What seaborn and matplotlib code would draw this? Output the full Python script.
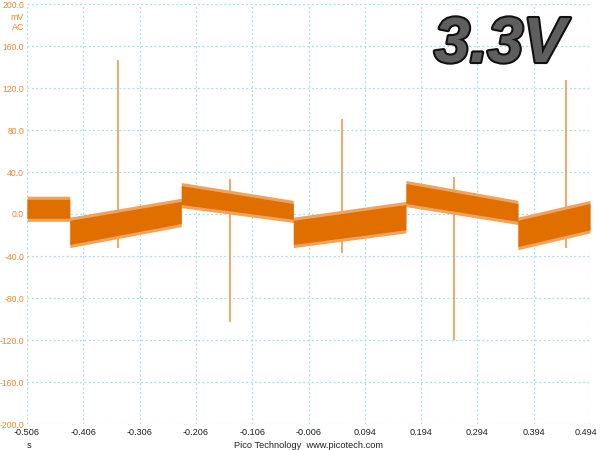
import numpy as np
import matplotlib
matplotlib.use("Agg")
import matplotlib.pyplot as plt
import matplotlib.patheffects as pe
import seaborn as sns

# Noise band of the captured trace, read per segment (mV), outer edge incl. fringe
seg_start = [-0.506, -0.430, -0.232, -0.033, 0.167, 0.366]
seg_end = [-0.430, -0.232, -0.033, 0.167, 0.366, 0.494]
hi_start = [17, -3, 30, -3, 32, -3]
hi_end = [17, 15, 13, 12, 13, 13]
lo_start = [-7, -32, 6, -32, 7, -34]
lo_end = [-7, -12, -8, -18, -10, -18]

# Single-sample spikes (s, mV)
spike_t = [-0.344, -0.145, 0.054, 0.252, 0.451]
spike_hi = [147, 33, 90, 35, 128]
spike_lo = [-32, -103, -37, -120, -32]

x_ticks = [-0.506, -0.406, -0.306, -0.206, -0.106, -0.006, 0.094, 0.194, 0.294, 0.394, 0.494]
y_ticks = [200, 160, 120, 80, 40, 0, -40, -80, -120, -160, -200]

trace = "#e06f00"
light = "#f0a35c"
tick_orange = "#e8862a"

sns.set_theme(style="white")
plt.rcParams["font.family"] = ["Liberation Sans", "DejaVu Sans"]
plt.rcParams["axes.unicode_minus"] = False

# build the envelope arrays from the segment table
t, up, lo = [], [], []
for s, e, h0, h1, l0, l1 in zip(seg_start, seg_end, hi_start, hi_end, lo_start, lo_end):
    t += [s, e]
    up += [h0, h1]
    lo += [l0, l1]
t = np.array(t)
up = np.array(up, dtype=float)
lo = np.array(lo, dtype=float)

fig = plt.figure(figsize=(6, 4.5), dpi=100)
ax = fig.add_axes([27 / 600, 1 - 424 / 450, 563 / 600, 420 / 450])

ax.vlines(spike_t, spike_lo, spike_hi, color=light, lw=1.3, zorder=2)
ax.fill_between(t, lo, up, color=light, lw=0, zorder=3)
ax.fill_between(t, lo + 3, up - 3, color=trace, lw=0, zorder=4)

ax.set_xlim(-0.506, 0.494)
ax.set_ylim(-200, 200)
ax.set_xticks(x_ticks)
# last label is shifted inward by hand, as the scope software does
ax.set_xticklabels([f"{v:.3f}" for v in x_ticks[:-1]] + [""])
ax.set_yticks(y_ticks)
ax.set_yticklabels([f"{v:.1f}" for v in y_ticks])
ax.tick_params(axis="x", length=0, pad=3, labelsize=6.6, labelcolor="#222222")
ax.tick_params(axis="y", length=0, pad=2, labelsize=6.2, labelcolor=tick_orange)
ax.grid(True, color="#a8dcef", lw=0.9, linestyle=(0, (1.5, 2)))
for sp in ax.spines.values():
    sp.set_visible(False)

fig.text(597 / 600, 1 - 432.5 / 450, f"{x_ticks[-1]:.3f}", ha="right", va="center", fontsize=6.6,
         color="#222222")
fig.text(24 / 600, 1 - 17 / 450, "mV", ha="right", va="center", fontsize=6.4, color=tick_orange)
fig.text(24 / 600, 1 - 27 / 450, "AC", ha="right", va="center", fontsize=6.4, color=tick_orange)
fig.text(27 / 600, 1 - 446 / 450, "s", ha="left", va="center", fontsize=6.6, color="#222222")
fig.text(308 / 600, 1 - 446 / 450, "Pico Technology  www.picotech.com", ha="center", va="center",
         fontsize=6.7, color="#222222")

big = fig.text(500 / 600, 1 - 62 / 450, "3.3V", ha="center", va="baseline", fontsize=46,
               fontweight="bold", fontstyle="italic", color="#5e5e5e")
big.set_path_effects([pe.Stroke(linewidth=3, foreground="#111111"), pe.Normal()])

fig.savefig("out.png", dpi=100)
